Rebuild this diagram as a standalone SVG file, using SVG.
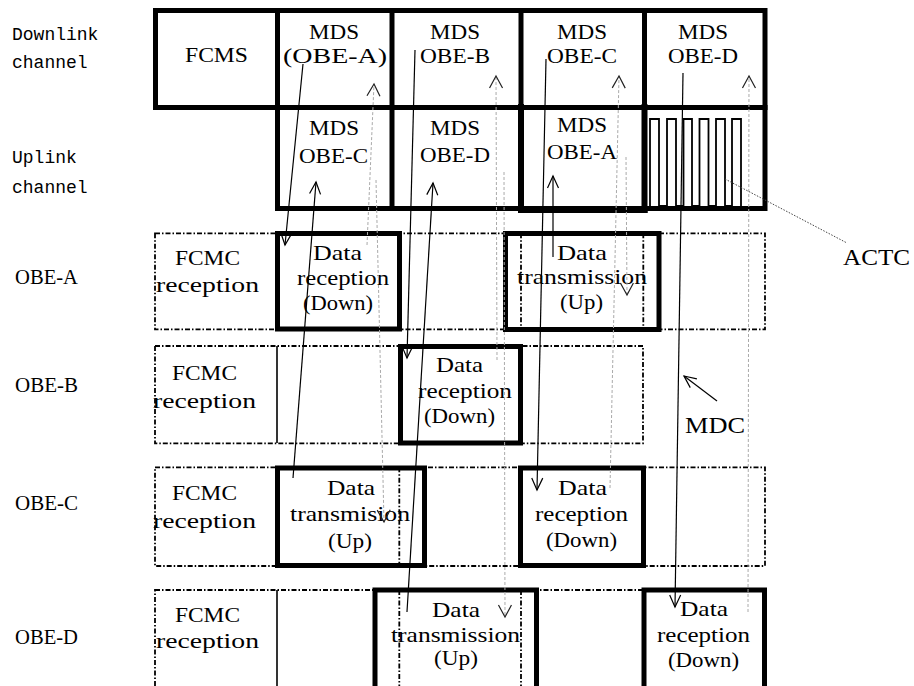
<svg xmlns="http://www.w3.org/2000/svg" width="914" height="686" viewBox="0 0 914 686">
<defs>
<style>
.t{font-family:"Liberation Serif","Times New Roman",serif;font-size:21px;fill:#000}
.h{font-family:"Liberation Serif","Times New Roman",serif;font-size:22px;fill:#000}
.big{font-family:"Liberation Serif","Times New Roman",serif;font-size:24px;fill:#000}
.m{font-family:"Liberation Mono","Courier New",monospace;font-size:18px;fill:#000}
.thick{fill:none;stroke:#000;stroke-width:5}
.dd{fill:none;stroke:#000;stroke-width:1.8;stroke-dasharray:5 2 1.5 2}
.thin{fill:none;stroke:#000;stroke-width:1.6}
.sol{fill:none;stroke:#000;stroke-width:1.2}
.gd{fill:none;stroke:#aaa;stroke-width:1;stroke-dasharray:3 2}
</style>
<marker id="a" viewBox="-14 -8 16 16" refX="0" refY="0" markerWidth="16" markerHeight="16" markerUnits="userSpaceOnUse" orient="auto">
<path d="M-12,-5.5 L0,0 L-12,5.5" fill="none" stroke="#000" stroke-width="1.2"/>
</marker>
<marker id="ag" viewBox="-14 -8 16 16" refX="0" refY="0" markerWidth="16" markerHeight="16" markerUnits="userSpaceOnUse" orient="auto">
<path d="M-12,-6.5 L0,0 L-12,6.5" fill="none" stroke="#222" stroke-width="1.2"/>
</marker>
</defs>
<rect width="914" height="686" fill="#fff"/>

<g id="channel-labels">
<text class="m" x="12" y="40">Downlink</text>
<text class="m" x="12" y="68">channel</text>
<text class="m" x="12" y="163">Uplink</text>
<text class="m" x="12" y="193">channel</text>
</g>

<g id="downlink">
<rect class="thick" x="155.5" y="10.5" width="609.5" height="97"/>
<line class="thick" x1="277.5" y1="10" x2="277.5" y2="108"/>
<line class="thick" x1="392" y1="10" x2="392" y2="108"/>
<line class="thick" x1="521" y1="10" x2="521" y2="108"/>
<line class="thick" x1="644.5" y1="10" x2="644.5" y2="108"/>
<text class="h" x="185" y="62" textLength="63" lengthAdjust="spacingAndGlyphs">FCMS</text>
<text class="h" x="309" y="39" textLength="50" lengthAdjust="spacingAndGlyphs">MDS</text>
<text class="h" x="283" y="63" textLength="104" lengthAdjust="spacingAndGlyphs">(OBE-A)</text>
<text class="h" x="430" y="39" textLength="50" lengthAdjust="spacingAndGlyphs">MDS</text>
<text class="h" x="420" y="63" textLength="70" lengthAdjust="spacingAndGlyphs">OBE-B</text>
<text class="h" x="557" y="39" textLength="50" lengthAdjust="spacingAndGlyphs">MDS</text>
<text class="h" x="547" y="63" textLength="70" lengthAdjust="spacingAndGlyphs">OBE-C</text>
<text class="h" x="678" y="39" textLength="50" lengthAdjust="spacingAndGlyphs">MDS</text>
<text class="h" x="668" y="63" textLength="70" lengthAdjust="spacingAndGlyphs">OBE-D</text>
</g>

<g id="uplink">
<rect class="thick" x="277.5" y="107.5" width="487.5" height="101"/>
<line class="thick" x1="392" y1="107" x2="392" y2="209"/>
<rect x="518" y="104" width="6" height="109" fill="#000"/>
<rect x="641.5" y="104" width="6" height="109" fill="#000"/>
<rect x="518" y="208" width="129.5" height="5" fill="#000"/>
<text class="h" x="309" y="135" textLength="50" lengthAdjust="spacingAndGlyphs">MDS</text>
<text class="h" x="299" y="163" textLength="69" lengthAdjust="spacingAndGlyphs">OBE-C</text>
<text class="h" x="430" y="135" textLength="50" lengthAdjust="spacingAndGlyphs">MDS</text>
<text class="h" x="420" y="162" textLength="70" lengthAdjust="spacingAndGlyphs">OBE-D</text>
<text class="h" x="557" y="132" textLength="50" lengthAdjust="spacingAndGlyphs">MDS</text>
<text class="h" x="547" y="159" textLength="70" lengthAdjust="spacingAndGlyphs">OBE-A</text>
<path d="M650,206 V119 H659 V206 H667 V119 H676 V206 H683.5 V119 H692 V206 H699.5 V119 H708.5 V206 H716 V119 H725 V206 H732 V119 H741 V206" fill="none" stroke="#000" stroke-width="1.8"/>
</g>

<g id="row-obe-a">
<text class="t" x="15" y="284" textLength="63" lengthAdjust="spacingAndGlyphs">OBE-A</text>
<rect class="dd" x="155" y="233.3" width="610" height="96"/>
<line class="dd" x1="521" y1="233.3" x2="521" y2="329.3"/>
<line class="dd" x1="643.3" y1="233.3" x2="643.3" y2="329.3"/>
<text class="h" x="175" y="265" textLength="65" lengthAdjust="spacingAndGlyphs">FCMC</text>
<text class="h" x="156" y="292" textLength="103" lengthAdjust="spacingAndGlyphs">reception</text>
<rect class="thick" x="277.5" y="233.5" width="122" height="95.5"/>
<text class="t" x="313" y="260" textLength="49" lengthAdjust="spacingAndGlyphs">Data</text>
<text class="t" x="297" y="285" textLength="92" lengthAdjust="spacingAndGlyphs">reception</text>
<text class="t" x="303" y="310" textLength="70" lengthAdjust="spacingAndGlyphs">(Down)</text>
<rect class="thick" x="505.5" y="233.5" width="153.5" height="96"/>
<text class="t" x="557" y="260" textLength="50" lengthAdjust="spacingAndGlyphs">Data</text>
<text class="t" x="517" y="284" textLength="130" lengthAdjust="spacingAndGlyphs">transmission</text>
<text class="t" x="560" y="309" textLength="43" lengthAdjust="spacingAndGlyphs">(Up)</text>
</g>

<g id="row-obe-b">
<text class="t" x="15" y="392" textLength="63" lengthAdjust="spacingAndGlyphs">OBE-B</text>
<rect class="dd" x="155" y="346" width="488" height="97.3"/>
<line class="thin" x1="277" y1="346" x2="277" y2="443"/>
<text class="h" x="172" y="380" textLength="65" lengthAdjust="spacingAndGlyphs">FCMC</text>
<text class="h" x="153" y="408" textLength="103" lengthAdjust="spacingAndGlyphs">reception</text>
<rect class="thick" x="400.5" y="346.5" width="120" height="96.5"/>
<text class="t" x="436" y="372" textLength="47" lengthAdjust="spacingAndGlyphs">Data</text>
<text class="t" x="418" y="398" textLength="94" lengthAdjust="spacingAndGlyphs">reception</text>
<text class="t" x="424" y="423" textLength="71" lengthAdjust="spacingAndGlyphs">(Down)</text>
</g>

<g id="row-obe-c">
<text class="t" x="15" y="510" textLength="63" lengthAdjust="spacingAndGlyphs">OBE-C</text>
<rect class="dd" x="155" y="467.3" width="610" height="98.7"/>
<line class="dd" x1="399.3" y1="467.3" x2="399.3" y2="566"/>
<text class="h" x="172" y="500" textLength="65" lengthAdjust="spacingAndGlyphs">FCMC</text>
<text class="h" x="153" y="528" textLength="103" lengthAdjust="spacingAndGlyphs">reception</text>
<rect class="thick" x="277.5" y="468" width="147" height="97.5"/>
<text class="t" x="327" y="495" textLength="48" lengthAdjust="spacingAndGlyphs">Data</text>
<text class="t" x="290" y="521" textLength="120" lengthAdjust="spacingAndGlyphs">transmision</text>
<text class="t" x="328" y="548" textLength="44" lengthAdjust="spacingAndGlyphs">(Up)</text>
<rect class="thick" x="520.5" y="468" width="123" height="97.5"/>
<text class="t" x="558" y="495" textLength="49" lengthAdjust="spacingAndGlyphs">Data</text>
<text class="t" x="535" y="521" textLength="93" lengthAdjust="spacingAndGlyphs">reception</text>
<text class="t" x="546" y="547" textLength="71" lengthAdjust="spacingAndGlyphs">(Down)</text>
</g>

<g id="row-obe-d">
<text class="t" x="15" y="644" textLength="63" lengthAdjust="spacingAndGlyphs">OBE-D</text>
<rect class="dd" x="155" y="590" width="610" height="110"/>
<line class="thin" x1="277" y1="590" x2="277" y2="700"/>
<line class="dd" x1="399.3" y1="590" x2="399.3" y2="700"/>
<line class="dd" x1="521" y1="590" x2="521" y2="700"/>
<text class="h" x="175" y="622" textLength="65" lengthAdjust="spacingAndGlyphs">FCMC</text>
<text class="h" x="156" y="648" textLength="103" lengthAdjust="spacingAndGlyphs">reception</text>
<rect class="thick" x="375" y="590" width="161.5" height="110"/>
<text class="t" x="432" y="617" textLength="48" lengthAdjust="spacingAndGlyphs">Data</text>
<text class="t" x="391" y="642" textLength="129" lengthAdjust="spacingAndGlyphs">transmission</text>
<text class="t" x="434" y="665" textLength="44" lengthAdjust="spacingAndGlyphs">(Up)</text>
<rect class="thick" x="644" y="590" width="120.5" height="110"/>
<text class="t" x="680" y="616" textLength="48" lengthAdjust="spacingAndGlyphs">Data</text>
<text class="t" x="657" y="642" textLength="93" lengthAdjust="spacingAndGlyphs">reception</text>
<text class="t" x="668" y="667" textLength="71" lengthAdjust="spacingAndGlyphs">(Down)</text>
</g>

<g id="callouts">
<text class="big" x="843" y="265" textLength="67" lengthAdjust="spacingAndGlyphs">ACTC</text>
<text class="big" x="685" y="433" textLength="60" lengthAdjust="spacingAndGlyphs">MDC</text>
</g>

<g id="connectors">
<line class="gd" x1="376" y1="180" x2="384" y2="522" marker-end="url(#ag)"/>
<line class="gd" x1="367" y1="245" x2="374" y2="84" marker-end="url(#ag)"/>
<line class="gd" x1="497" y1="360" x2="496" y2="76" marker-end="url(#ag)"/>
<line class="gd" x1="504" y1="172" x2="505" y2="617" marker-end="url(#ag)"/>
<line class="gd" x1="610" y1="488" x2="619" y2="76" marker-end="url(#ag)"/>
<line class="gd" x1="626" y1="157" x2="627" y2="295" marker-end="url(#ag)"/>
<line class="gd" x1="748" y1="612" x2="749" y2="76" marker-end="url(#ag)"/>
<line class="sol" x1="303" y1="64" x2="285" y2="245" marker-end="url(#a)"/>
<line class="sol" x1="293" y1="478" x2="316" y2="182" marker-end="url(#a)"/>
<line class="sol" x1="415" y1="50" x2="407" y2="358" marker-end="url(#a)"/>
<line class="sol" x1="407" y1="612" x2="433" y2="183" marker-end="url(#a)"/>
<line class="sol" x1="546" y1="59" x2="537" y2="490" marker-end="url(#a)"/>
<line class="sol" x1="553" y1="257" x2="553" y2="176" marker-end="url(#a)"/>
<line class="sol" x1="683" y1="73" x2="675" y2="607" marker-end="url(#a)"/>
<line x1="725" y1="179" x2="847" y2="243" stroke="#444" stroke-width="1" stroke-dasharray="1.5 1.5"/>
<line class="sol" x1="717" y1="401" x2="684" y2="376" marker-end="url(#a)"/>
</g>
</svg>
